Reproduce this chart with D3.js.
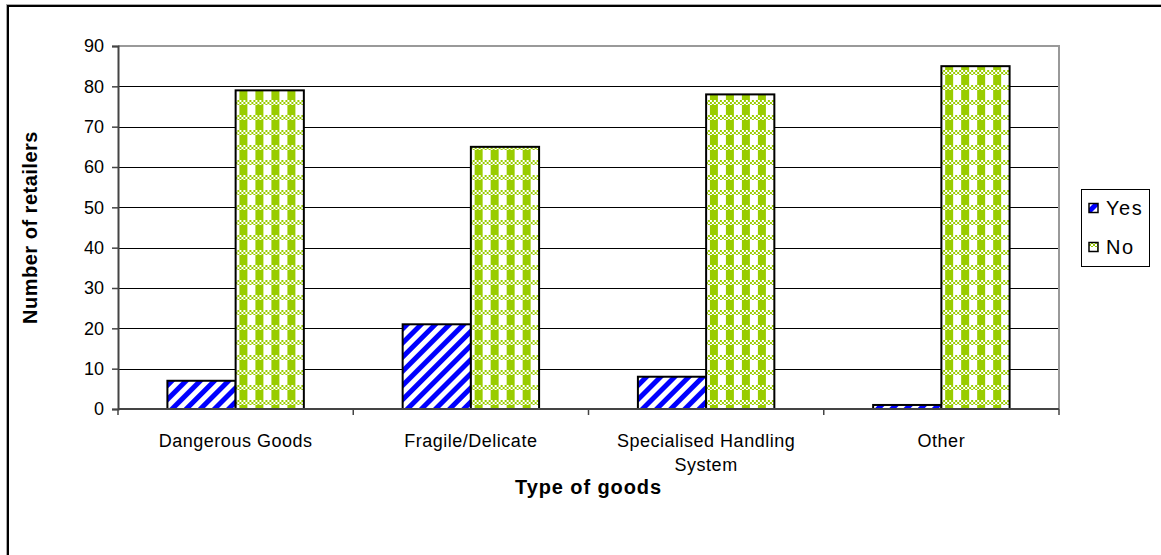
<!DOCTYPE html>
<html>
<head>
<meta charset="utf-8">
<script src="https://cdn.jsdelivr.net/npm/d3@7"></script>
<style>
  html, body { margin: 0; padding: 0; background: #fff; }
  svg { display: block; }
  text { font-family: "Liberation Sans", Arial, sans-serif; fill: #000; }
</style>
</head>
<body>
<svg id="chart" width="1161" height="555"></svg>
<script>
// Retailers handling each type of goods
const categories = [["Dangerous Goods"], ["Fragile/Delicate"], ["Specialised Handling", "System"], ["Other"]];
const seriesNames = ["Yes", "No"];
const yesValues = [7, 21, 8, 1];
const noValues = [79, 65, 78, 85];
const yTicks = [0, 10, 20, 30, 40, 50, 60, 70, 80, 90];

const svg = d3.select("#chart");
const defs = svg.append("defs");

// Blue diagonal hatch for "Yes"
const hatch = defs.append("pattern")
  .attr("id", "hatchYes").attr("patternUnits", "userSpaceOnUse")
  .attr("width", 10).attr("height", 10)
  .attr("patternTransform", "rotate(45)");
hatch.append("rect").attr("width", 10).attr("height", 10).attr("fill", "#fff");
hatch.append("rect").attr("x", 0).attr("width", 5).attr("height", 10).attr("fill", "#0000ff");

// Small dither used inside the plaid
const dither = defs.append("pattern")
  .attr("id", "dither").attr("patternUnits", "userSpaceOnUse")
  .attr("width", 4).attr("height", 4);
dither.append("rect").attr("width", 4).attr("height", 4).attr("fill", "#ffffff");
dither.append("rect").attr("x", 0).attr("y", 0).attr("width", 2).attr("height", 2).attr("fill", "#99cc00");
dither.append("rect").attr("x", 2).attr("y", 2).attr("width", 2).attr("height", 2).attr("fill", "#99cc00");

// Green plaid for "No"
const plaid = defs.append("pattern")
  .attr("id", "plaidNo").attr("patternUnits", "userSpaceOnUse")
  .attr("width", 16).attr("height", 15);
plaid.append("rect").attr("width", 16).attr("height", 15).attr("fill", "url(#dither)");
plaid.append("rect").attr("x", 0).attr("y", 0).attr("width", 8).attr("height", 10).attr("fill", "#ffffff");
plaid.append("rect").attr("x", 8).attr("y", 0).attr("width", 8).attr("height", 10).attr("fill", "#99cc00");
plaid.append("rect").attr("x", 2).attr("y", 2).attr("width", 4).attr("height", 6).attr("fill", "#ffffff");

const fills = { Yes: "url(#hatchYes)", No: "url(#plaidNo)" };

// Outer frame
svg.append("rect")
  .attr("x", 6.5).attr("y", 4.5).attr("width", 1200).attr("height", 600)
  .attr("fill", "none").attr("stroke", "#aaa").attr("stroke-width", 1);
svg.append("rect")
  .attr("x", 8).attr("y", 6).attr("width", 1200).attr("height", 600)
  .attr("fill", "none").attr("stroke", "#000").attr("stroke-width", 2);

const plot = { left: 118, right: 1059, top: 46, bottom: 409 };

const x = d3.scaleBand()
  .domain(d3.range(categories.length))
  .range([plot.left, plot.right])
  .paddingInner(0.42).paddingOuter(0.21);
const xs = d3.scaleBand().domain(seriesNames).range([0, x.bandwidth()]);
const y = d3.scaleLinear().domain([0, 90]).range([plot.bottom, plot.top]);

// Gridlines
svg.append("g").selectAll("line")
  .data(yTicks.filter(t => t > 0 && t < 90))
  .join("line")
  .attr("x1", plot.left).attr("x2", plot.right)
  .attr("y1", d => Math.round(y(d)) + 0.5).attr("y2", d => Math.round(y(d)) + 0.5)
  .attr("stroke", "#000").attr("stroke-width", 1);

// Plot-area top and right borders
svg.append("path")
  .attr("d", `M${plot.left},${plot.top}H${plot.right}V${plot.bottom}`)
  .attr("fill", "none").attr("stroke", "#999").attr("stroke-width", 2);

// Bars
const rows = categories.map((c, i) => ({ i, values: [{ k: "Yes", v: yesValues[i] }, { k: "No", v: noValues[i] }] }));
const groups = svg.append("g").selectAll("g").data(rows).join("g")
  .attr("transform", d => `translate(${x(d.i)},0)`);
groups.selectAll("rect").data(d => d.values).join("rect")
  .attr("x", d => xs(d.k))
  .attr("y", d => y(d.v))
  .attr("width", xs.bandwidth())
  .attr("height", d => y(0) - y(d.v))
  .attr("fill", d => fills[d.k])
  .attr("stroke", "#000").attr("stroke-width", 2);

// Y axis
const yAxis = svg.append("g")
  .attr("transform", `translate(${plot.left},0)`)
  .call(d3.axisLeft(y).tickValues(yTicks).tickSize(6).tickPadding(8));
yAxis.select(".domain").attr("stroke", "#444").attr("stroke-width", 2);
yAxis.selectAll(".tick line").attr("stroke", "#444").attr("stroke-width", 1.5);
yAxis.selectAll(".tick text")
  .attr("font-family", "Liberation Sans, Arial, sans-serif")
  .attr("font-size", 18).attr("fill", "#000");

// X axis: ticks fall on category boundaries
const boundaries = d3.range(categories.length + 1).map(i => plot.left + i * x.step());
const xAxis = svg.append("g");
xAxis.append("line")
  .attr("x1", plot.left).attr("x2", plot.right)
  .attr("y1", plot.bottom).attr("y2", plot.bottom)
  .attr("stroke", "#444").attr("stroke-width", 2);
xAxis.selectAll("line.tk").data(boundaries).join("line").attr("class", "tk")
  .attr("x1", d => d).attr("x2", d => d)
  .attr("y1", plot.bottom).attr("y2", plot.bottom + 6)
  .attr("stroke", "#444").attr("stroke-width", 1.5);

const catLabels = svg.append("g").selectAll("text").data(categories).join("text")
  .attr("text-anchor", "middle")
  .attr("font-size", 18)
  .attr("letter-spacing", 0.5)
  .attr("x", (d, i) => x(i) + x.bandwidth() / 2)
  .attr("y", 447);
catLabels.selectAll("tspan").data(d => d).join("tspan")
  .attr("x", function () { return d3.select(this.parentNode).attr("x"); })
  .attr("dy", (d, i) => i === 0 ? 0 : 24)
  .text(d => d);

// Axis titles
svg.append("text")
  .attr("x", (plot.left + plot.right) / 2).attr("y", 494)
  .attr("text-anchor", "middle").attr("font-size", 20).attr("font-weight", "bold")
  .attr("letter-spacing", 0.9)
  .text("Type of goods");
svg.append("text")
  .attr("transform", `translate(37,${(plot.top + plot.bottom) / 2}) rotate(-90)`)
  .attr("text-anchor", "middle").attr("font-size", 20).attr("font-weight", "bold")
  .attr("letter-spacing", 0.5)
  .text("Number of retailers");

// Legend
const legend = svg.append("g");
legend.append("rect")
  .attr("x", 1081.5).attr("y", 189.5).attr("width", 68).attr("height", 77)
  .attr("fill", "#fff").attr("stroke", "#000").attr("stroke-width", 1);
const items = legend.selectAll("g").data(seriesNames).join("g")
  .attr("transform", (d, i) => `translate(1089,${208 + i * 39})`);
items.append("rect")
  .attr("x", 0).attr("y", -4.5).attr("width", 9).attr("height", 9)
  .attr("fill", d => fills[d]).attr("stroke", "#000").attr("stroke-width", 1.5);
items.append("text")
  .attr("x", 17).attr("y", 7)
  .attr("font-size", 20)
  .attr("letter-spacing", 1.5)
  .text(d => d);
</script>
</body>
</html>
